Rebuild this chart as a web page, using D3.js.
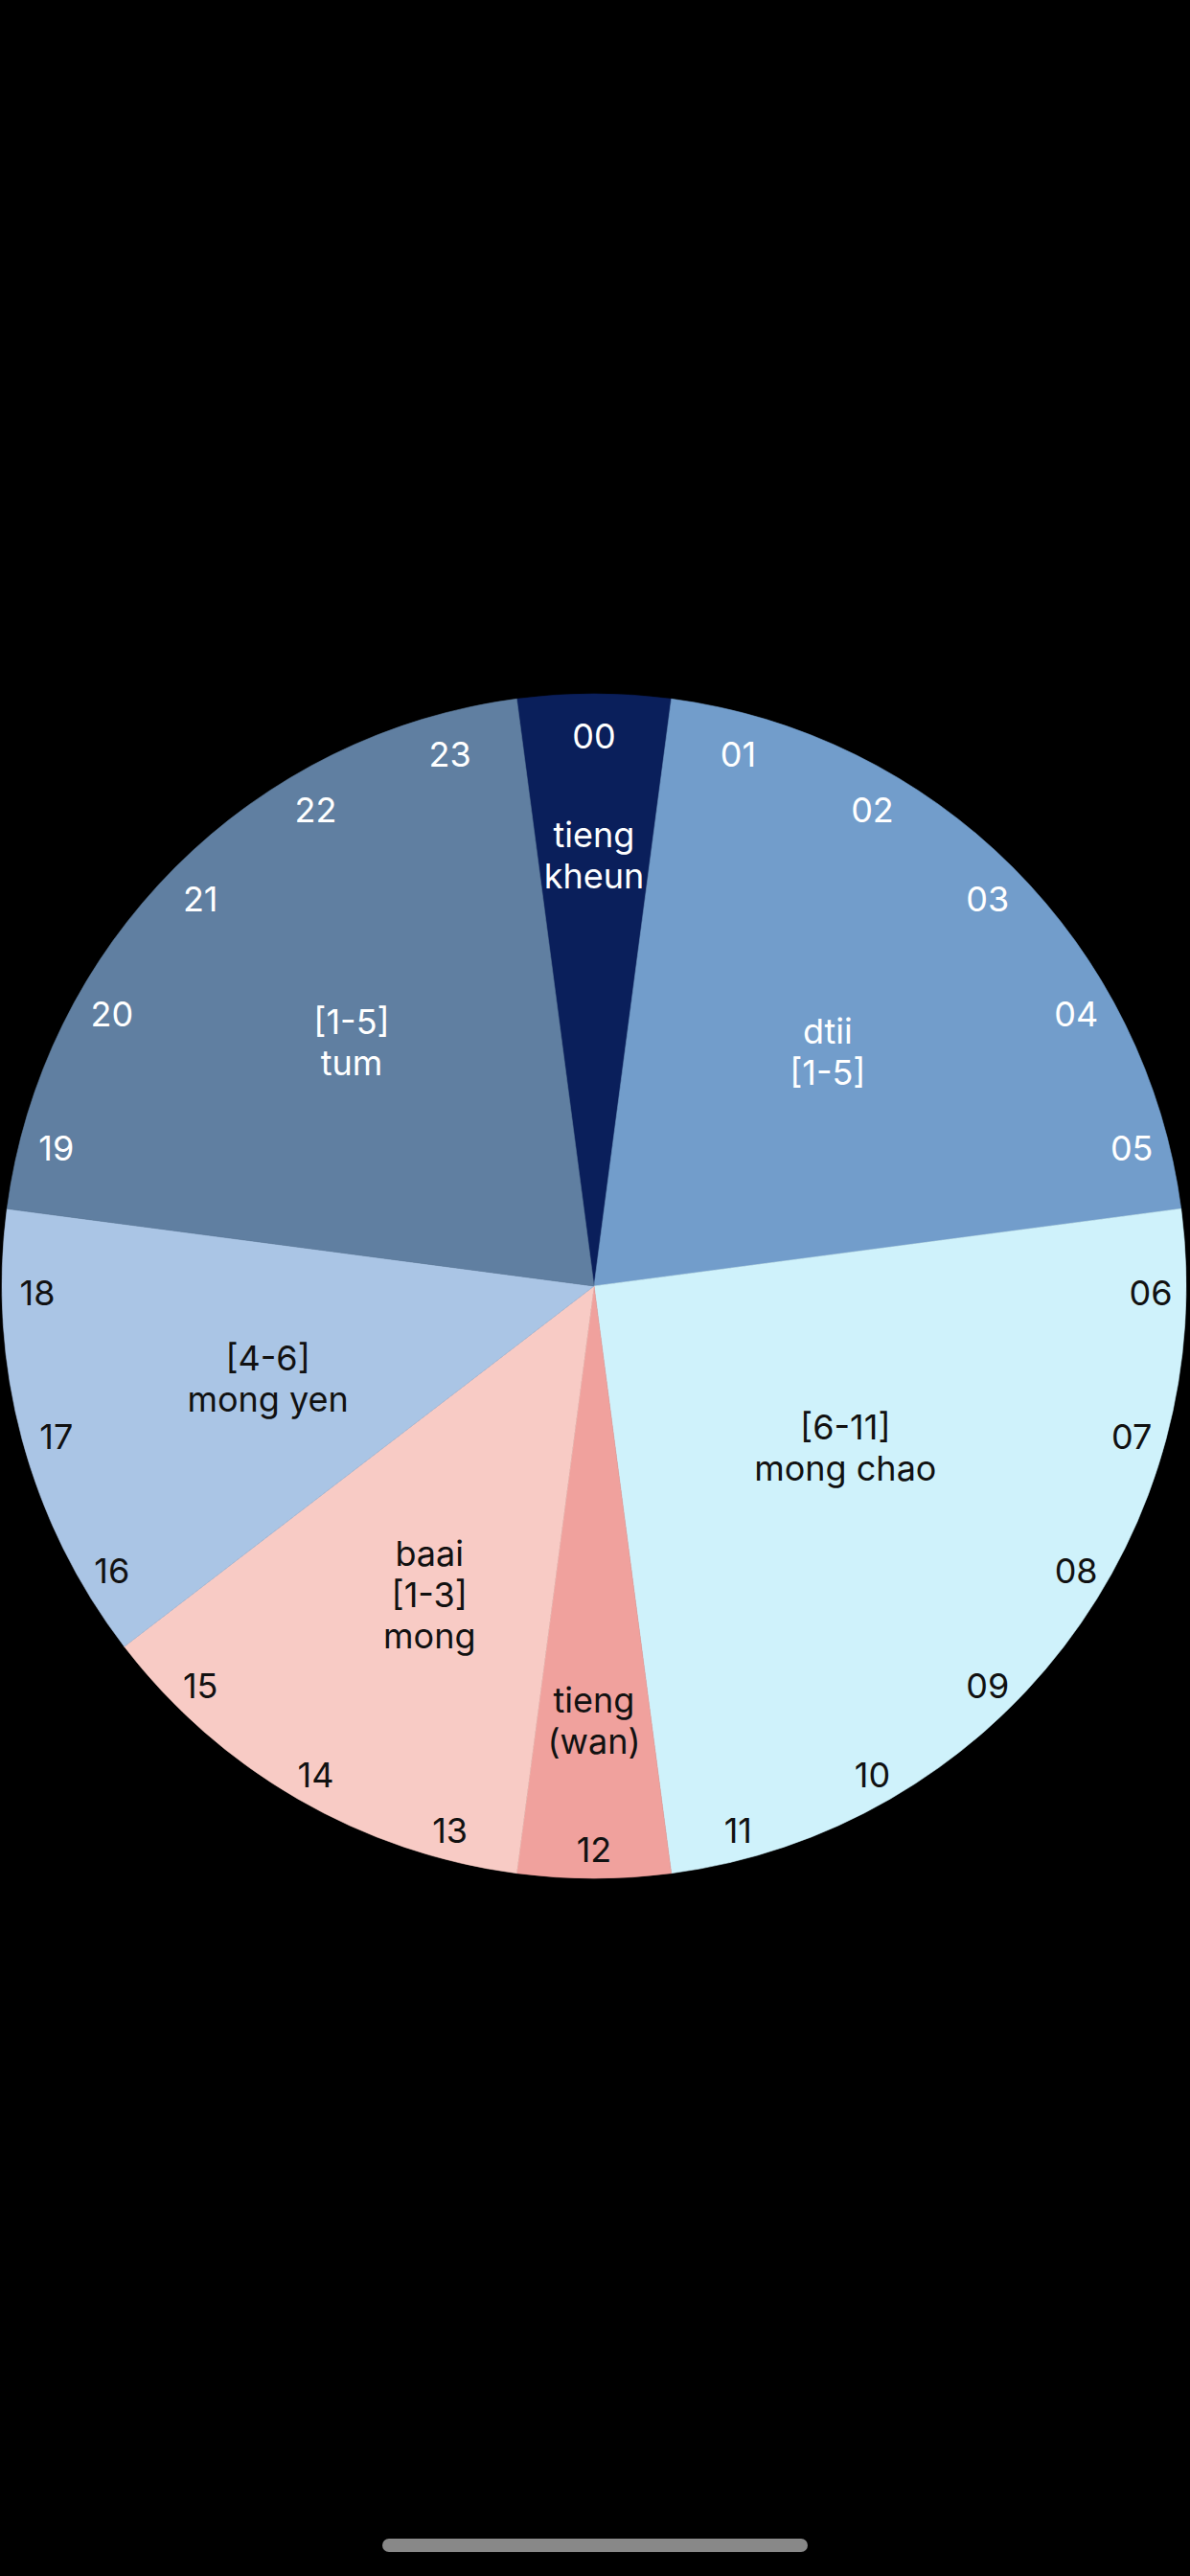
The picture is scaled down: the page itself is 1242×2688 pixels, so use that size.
<!DOCTYPE html>
<html>
<head>
<meta charset="utf-8">
<script src="https://cdn.jsdelivr.net/npm/d3@7"></script>
<style>
  html, body { margin: 0; padding: 0; background: #000; }
  svg { display: block; }
  text { font-family: Inter, "Noto Sans", sans-serif; }
</style>
</head>
<body>
<svg id="chart" width="1242" height="2688"></svg>
<script>
// ---- data ----
const groupLabels = ["tieng\nkheun", "dtii\n[1-5]", "[6-11]\nmong chao", "tieng\n(wan)", "baai\n[1-3]\nmong", "[4-6]\nmong yen", "[1-5]\ntum"];
const groupHours = [1, 5, 6, 1, 3, 3, 5];
const hourLabels = ["00","01","02","03","04","05","06","07","08","09","10","11",
                    "12","13","14","15","16","17","18","19","20","21","22","23"];

// ---- style / layout ----
const groupColors = ["#0a1f5b", "#729dcb", "#cff2fb", "#f0a19d", "#f8cbc5", "#aac5e5", "#607fa1"];
const groupTextColors = ["#ffffff", "#ffffff", "#111111", "#111111", "#111111", "#111111", "#ffffff"];
const labelRadiusFrac = [0.726, 0.558, 0.505, 0.736, 0.592, 0.573, 0.579];
const labelAngleNudge = [0, 0, -4.7, 0, -2, -1, 0]; // degrees
const W = 1242, H = 2688;
const cx = 620, cy = 1342, R = 618;
const fontSize = 36, lineH = 43;
const hourR = 581;

const svg = d3.select("#chart");
svg.append("rect").attr("width", W).attr("height", H).attr("fill", "#000");

const g = svg.append("g").attr("transform", `translate(${cx},${cy})`);

const halfHour = Math.PI / 24; // 7.5 degrees
const pie = d3.pie().sort(null).value(d => d)
  .startAngle(-halfHour).endAngle(2 * Math.PI - halfHour);
const arcs = pie(groupHours);
const arc = d3.arc().innerRadius(0).outerRadius(R);

g.selectAll("path.slice").data(arcs).enter().append("path")
  .attr("class", "slice")
  .attr("d", arc)
  .attr("fill", (d, i) => groupColors[i])
  .attr("stroke", (d, i) => groupColors[i])
  .attr("stroke-width", 0.6);

// hour labels
const hourAngle = d3.scaleLinear().domain([0, 24]).range([0, 2 * Math.PI]);
const groupOfHour = [];
groupHours.forEach((n, gi) => { for (let k = 0; k < n; k++) groupOfHour.push(gi); });

g.selectAll("text.hour").data(hourLabels).enter().append("text")
  .attr("class", "hour")
  .attr("x", (d, i) => hourR * Math.sin(hourAngle(i)))
  .attr("y", (d, i) => -hourR * Math.cos(hourAngle(i)) + 19.5)
  .attr("text-anchor", "middle")
  .attr("font-size", fontSize)
  .attr("fill", (d, i) => groupTextColors[groupOfHour[i]])
  .text(d => d);

// group labels
arcs.forEach((a, i) => {
  const ang = (a.startAngle + a.endAngle) / 2 + labelAngleNudge[i] * Math.PI / 180;
  const r = labelRadiusFrac[i] * R;
  const x = r * Math.sin(ang), y = -r * Math.cos(ang);
  const lines = groupLabels[i].split("\n");
  const t = g.append("text")
    .attr("text-anchor", "middle")
    .attr("font-size", fontSize)
    .attr("fill", groupTextColors[i]);
  lines.forEach((ln, k) => {
    t.append("tspan")
      .attr("x", x)
      .attr("y", y + (k - (lines.length - 1) / 2) * lineH + 12)
      .text(ln);
  });
});

// home indicator
svg.append("rect")
  .attr("x", 399).attr("y", 2649).attr("width", 444).attr("height", 14)
  .attr("rx", 7).attr("fill", "#888888");
</script>
</body>
</html>
